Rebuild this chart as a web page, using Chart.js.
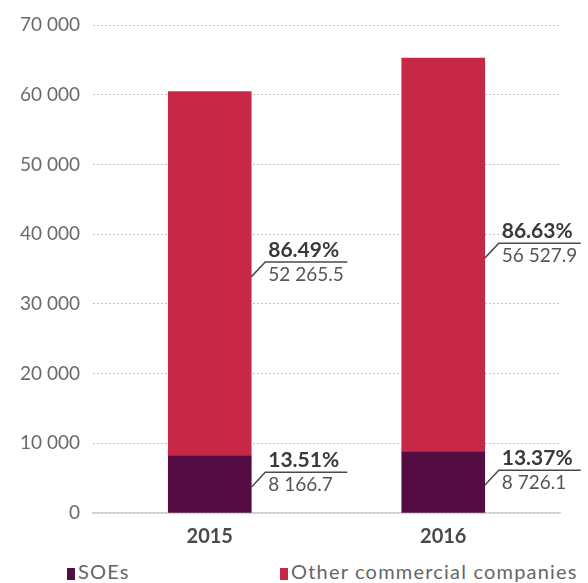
<!DOCTYPE html>
<html>
<head>
<meta charset="utf-8">
<script src="https://cdn.jsdelivr.net/npm/chart.js@4.4.0/dist/chart.umd.min.js"></script>
<style>
    body { margin: 0; background: #fff; font-family: Lato, sans-serif; }
    #wrap { position: relative; width: 588px; height: 583px; }
    #box { position: absolute; left: 0; top: 0; width: 588px; height: 548px; }
    .legend-item { position: absolute; top: 559px; font-size: 20px; letter-spacing: 1.2px; color: #666; white-space: nowrap; }
    .legend-item i { display: inline-block; width: 8px; height: 12px; margin-right: 3px; vertical-align: -1px; }
</style>
</head>
<body>
<div id="wrap">
    <div id="box"><canvas id="chart"></canvas></div>
    <div class="legend-item" id="leg0" style="left:67px"><i></i><span></span></div>
    <div class="legend-item" id="leg1" style="left:280px"><i></i><span></span></div>
</div>
<script>
// data
const years = ['2015', '2016'];
const seriesNames = ['SOEs', 'Other commercial companies'];
const soeValues = [8166.7, 8726.1];
const otherValues = [52265.5, 56527.9];
const seriesColors = ['#530d42', '#c82848'];

// "52265.5" -> "52 265.5"
function fmt(v, dec) {
    const parts = (dec === undefined ? String(v) : v.toFixed(dec)).split('.');
    parts[0] = parts[0].replace(/\B(?=(\d{3})+(?!\d))/g, ' ');
    return parts.join('.');
}

// legend
seriesNames.forEach(function(name, i) {
    const el = document.getElementById('leg' + i);
    el.querySelector('i').style.background = seriesColors[i];
    el.querySelector('span').textContent = name;
});

// leader lines with share and value next to each segment
const segmentLabels = {
    id: 'segmentLabels',
    afterDatasetsDraw(chart) {
        const ctx = chart.ctx;
        chart.data.datasets.forEach(function(ds, di) {
            const meta = chart.getDatasetMeta(di);
            meta.data.forEach(function(bar, i) {
                const total = soeValues[i] + otherValues[i];
                const pct = (ds.data[i] / total * 100).toFixed(2) + '%';
                const right = bar.x + bar.width / 2;
                const y0 = (bar.y + bar.base) / 2 + 3;
                const y1 = y0 - 15;
                ctx.save();
                ctx.strokeStyle = '#4a4a4a';
                ctx.lineWidth = 1.5;
                ctx.beginPath();
                ctx.moveTo(right, y0);
                ctx.lineTo(right + 14, y1);
                ctx.lineTo(right + 96, y1);
                ctx.stroke();
                ctx.textAlign = 'left';
                ctx.fillStyle = '#3a3a3a';
                ctx.font = 'bold 21px Lato';
                ctx.textBaseline = 'alphabetic';
                ctx.fillText(pct, right + 17, y1 - 5);
                ctx.fillStyle = '#555';
                ctx.font = '19px Lato';
                ctx.textBaseline = 'top';
                ctx.fillText(fmt(ds.data[i]), right + 17, y1 + 3);
                ctx.restore();
            });
        });
    }
};

const ctx = document.getElementById('chart').getContext('2d');
const chart = new Chart(ctx, {
    type: 'bar',
    data: {
        labels: years,
        datasets: [{
            label: seriesNames[0],
            data: soeValues,
            backgroundColor: seriesColors[0],
            barThickness: 83
        }, {
            label: seriesNames[1],
            data: otherValues,
            backgroundColor: seriesColors[1],
            barThickness: 83
        }]
    },
    options: {
        responsive: true,
        maintainAspectRatio: false,
        animation: false,
        layout: {
            padding: { top: 25, right: 28, bottom: 0, left: 0 }
        },
        plugins: {
            legend: { display: false },
            tooltip: { enabled: false }
        },
        scales: {
            x: {
                stacked: true,
                grid: { display: false },
                border: { display: true, color: '#cfcfcf', width: 1.5 },
                ticks: {
                    padding: 4,
                    color: '#4a4a4a',
                    font: { family: 'Lato', size: 20, weight: 'bold' }
                },
                afterFit(scale) { scale.height = 35; }
            },
            y: {
                stacked: true,
                min: 0,
                max: 70000,
                grid: {
                    color: '#c4c4c4',
                    lineWidth: 1,
                    drawTicks: false
                },
                border: { display: false, dash: [2, 2] },
                ticks: {
                    stepSize: 10000,
                    padding: 13,
                    color: '#6a6a6a',
                    font: { family: 'Lato', size: 19 },
                    callback: function(v) { return fmt(v); }
                },
                afterFit(scale) { scale.width = 93; }
            }
        }
    },
    plugins: [segmentLabels]
});
</script>
</body>
</html>
